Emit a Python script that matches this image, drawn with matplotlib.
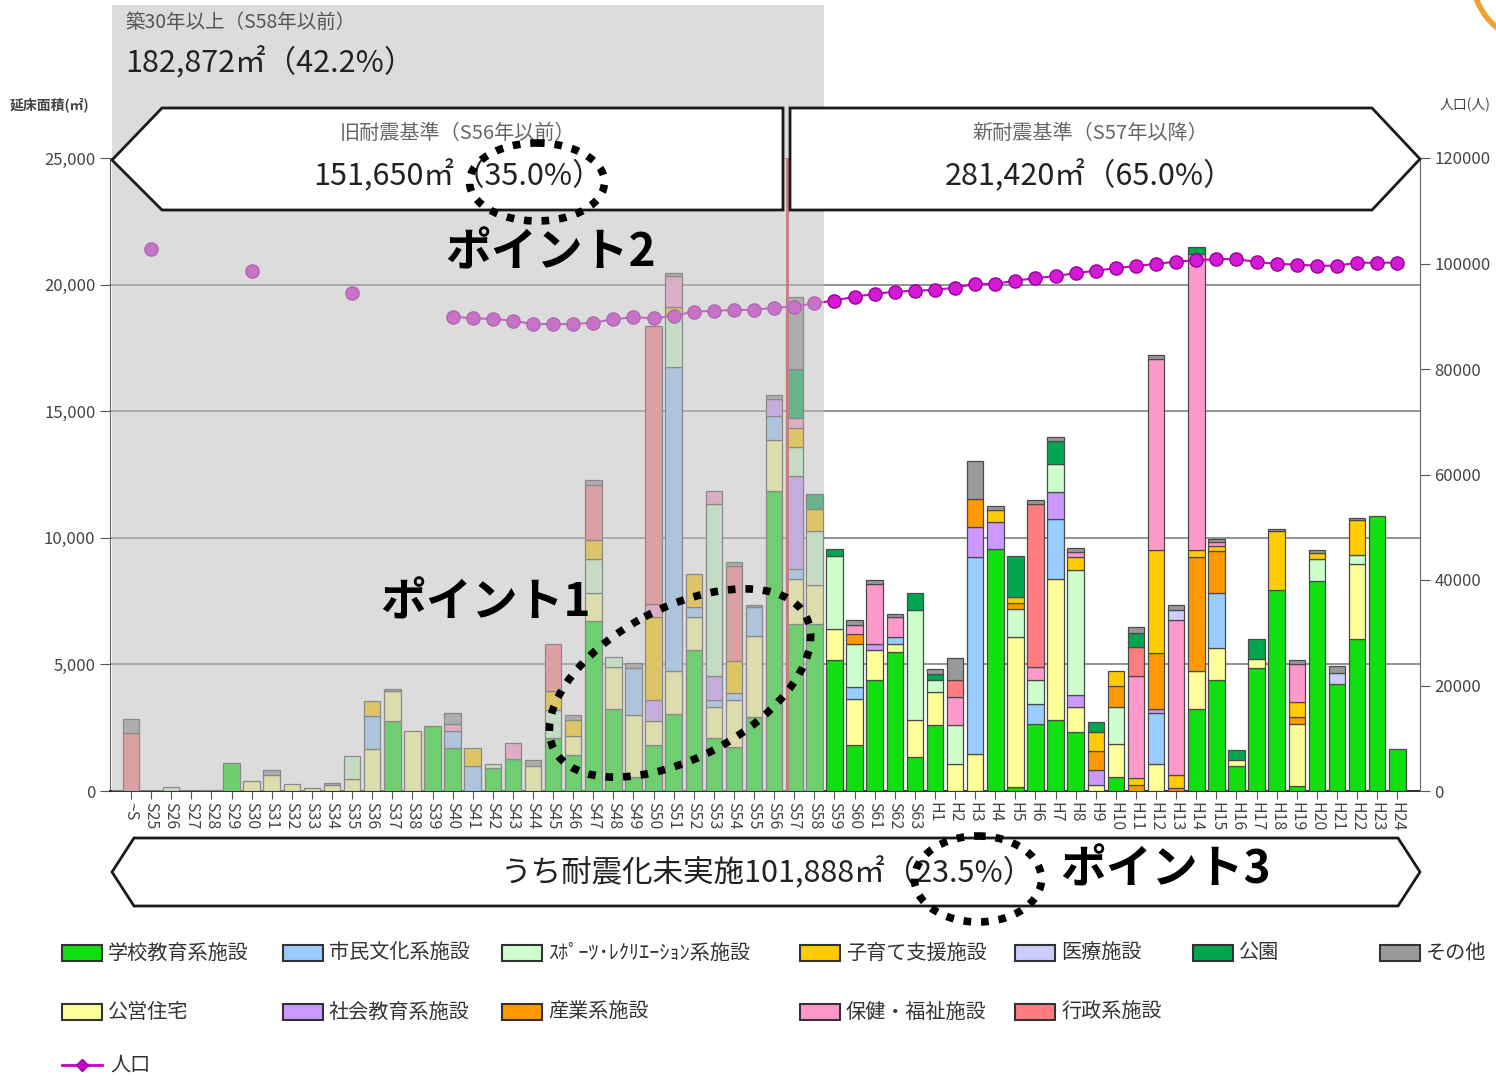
import matplotlib
matplotlib.use("Agg")
import matplotlib.pyplot as plt
import matplotlib.transforms as mtransforms
from matplotlib.patches import Polygon, Ellipse, Rectangle, Circle
from matplotlib.lines import Line2D
import numpy as np

plt.rcParams['font.family'] = ['Noto Sans CJK JP', 'DejaVu Sans']

# --- data -------------------------------------------------------------
years = ["~S"] + [f"S{n}" for n in range(25, 64)] + [f"H{n}" for n in range(1, 25)]

school = [0, 0, 0, 0, 0, 1120, 0, 0, 0, 0,
          0, 0, 0, 2760, 0, 2570, 1710, 0, 920, 1250,
          0, 2090, 1430, 6720, 3250, 550, 1820, 3040, 5565, 2090,
          1750, 2910, 11830, 6590, 6590, 5160, 1800, 4370, 5490, 1340,
          2590, 0, 0, 9570, 160, 2660, 2790, 2330, 0, 570,
          0, 0, 0, 3220, 4370, 1000, 4870, 7950, 215, 8310,
          4230, 6020, 10850, 1650]
housing = [0, 0, 0, 0, 0, 0, 390, 630, 260, 130,
           230, 460, 1650, 1180, 2370, 0, 0, 0, 0, 0,
           990, 0, 730, 1090, 1630, 2450, 950, 1700, 1290, 1225,
           1840, 3200, 2040, 1770, 1560, 1250, 1850, 1180, 330, 1450,
           1320, 1080, 1470, 0, 5920, 0, 5590, 990, 220, 1290,
           0, 1070, 0, 1510, 1290, 220, 360, 0, 2435, 0,
           0, 2940, 0, 0]
culture = [0, 0, 0, 0, 0, 0, 0, 0, 0, 0,
           0, 0, 1310, 0, 0, 0, 660, 990, 0, 0,
           0, 0, 0, 0, 0, 1840, 0, 12000, 410, 275,
           270, 1155, 950, 410, 0, 0, 460, 0, 260, 0,
           0, 0, 7770, 0, 0, 790, 2370, 0, 0, 0,
           0, 2010, 0, 0, 2150, 0, 0, 0, 0, 0,
           0, 0, 0, 0]
social_edu = [0, 0, 0, 0, 0, 0, 0, 0, 0, 0,
              0, 0, 0, 0, 0, 0, 0, 0, 0, 0,
              0, 0, 0, 0, 0, 0, 820, 0, 0, 950,
              0, 0, 650, 3670, 0, 0, 0, 270, 0, 0,
              0, 0, 1180, 1050, 0, 0, 1050, 470, 600, 0,
              0, 140, 0, 0, 0, 0, 0, 0, 0, 0,
              0, 0, 0, 0]
sports = [0, 0, 150, 0, 50, 0, 0, 0, 0, 0,
          0, 920, 0, 0, 0, 0, 0, 0, 130, 0,
          0, 1100, 0, 1360, 400, 0, 0, 2115, 0, 6810,
          0, 0, 0, 1160, 2110, 2890, 1710, 0, 0, 4340,
          460, 1510, 0, 0, 1120, 920, 1120, 4920, 0, 1440,
          0, 0, 0, 0, 0, 0, 0, 0, 0, 860,
          0, 350, 0, 0]
industry = [0, 0, 0, 0, 0, 0, 0, 0, 0, 0,
            0, 0, 0, 0, 0, 0, 0, 0, 0, 0,
            0, 0, 0, 0, 0, 0, 0, 0, 0, 0,
            0, 0, 0, 0, 0, 0, 390, 0, 0, 0,
            0, 0, 1120, 0, 230, 0, 0, 0, 750, 860,
            250, 2230, 100, 4510, 1650, 0, 0, 0, 290, 0,
            0, 0, 0, 0]
childcare = [0, 0, 0, 0, 0, 0, 0, 0, 0, 0,
             0, 0, 590, 0, 0, 0, 0, 720, 0, 0,
             0, 750, 660, 750, 0, 0, 3270, 275, 1290, 0,
             1294, 0, 0, 750, 890, 0, 0, 0, 0, 0,
             0, 0, 0, 460, 230, 0, 0, 530, 760, 570,
             250, 4080, 545, 290, 210, 0, 0, 2330, 570, 220,
             0, 1400, 0, 0]
welfare = [0, 0, 0, 0, 0, 0, 0, 0, 0, 0,
           0, 0, 0, 0, 0, 0, 260, 0, 0, 630,
           0, 0, 0, 0, 0, 0, 530, 1190, 0, 510,
           0, 0, 0, 400, 0, 0, 330, 2370, 790, 0,
           0, 1120, 0, 0, 0, 530, 0, 200, 0, 0,
           4040, 7520, 6090, 11680, 150, 0, 0, 0, 1500, 0,
           0, 0, 0, 0]
admin = [2300, 0, 0, 0, 0, 0, 0, 0, 0, 0,
         0, 0, 0, 0, 0, 0, 0, 0, 0, 0,
         0, 1850, 0, 2180, 0, 0, 10970, 0, 0, 0,
         3750, 0, 0, 0, 0, 0, 0, 0, 0, 0,
         0, 660, 0, 0, 0, 6450, 0, 0, 0, 0,
         1150, 0, 0, 0, 0, 0, 0, 0, 0, 0,
         0, 0, 0, 0]
medical = [0, 0, 0, 0, 0, 0, 0, 0, 0, 0,
           0, 0, 0, 0, 0, 0, 0, 0, 0, 0,
           0, 0, 0, 0, 0, 0, 0, 0, 0, 0,
           0, 0, 0, 0, 0, 0, 0, 0, 0, 0,
           0, 0, 0, 0, 0, 0, 0, 0, 0, 0,
           0, 0, 430, 0, 0, 0, 0, 0, 0, 0,
           430, 0, 0, 0]
park = [0, 0, 0, 0, 0, 0, 0, 0, 0, 0,
        0, 0, 0, 0, 0, 0, 0, 0, 0, 0,
        0, 0, 0, 0, 0, 0, 0, 0, 0, 0,
        0, 0, 0, 1900, 570, 260, 0, 0, 0, 690,
        260, 0, 0, 0, 1640, 0, 920, 0, 390, 0,
        540, 0, 0, 290, 0, 400, 790, 0, 0, 0,
        0, 0, 0, 0]
other = [530, 0, 0, 0, 0, 0, 0, 200, 0, 0,
         100, 0, 0, 70, 0, 0, 460, 0, 0, 0,
         230, 0, 200, 200, 0, 200, 0, 140, 0, 0,
         140, 70, 180, 2860, 0, 0, 220, 130, 130, 0,
         200, 890, 1510, 160, 0, 130, 140, 150, 0, 0,
         250, 150, 175, 0, 140, 0, 0, 80, 150, 140,
         280, 80, 0, 0]

# population (人), census years only before S40
population = [None, 102760, None, None, None, None, 98590, None, None, None,
              None, 94480, None, None, None, None, 89930, 89620, 89490, 89170,
              88490, 88540, 88490, 88790, 89430, 89810, 89620, 90060, 90880, 91010,
              91200, 91200, 91640, 91830, 92460, 92970, 93720, 94230, 94670, 94860,
              94990, 95430, 96130, 96130, 96760, 97210, 97640, 98150, 98650, 99100,
              99540, 99920, 100360, 100620, 100830, 100830, 100280, 99940, 99790, 99580,
              99580, 100150, 100150, 100150]

colors = {
    '学校教育系施設': '#10e010',
    '公営住宅': '#ffff99',
    '市民文化系施設': '#99ccff',
    '社会教育系施設': '#cc99ff',
    'ｽﾎﾟｰﾂ･ﾚｸﾘｴｰｼｮﾝ系施設': '#ccffcc',
    '産業系施設': '#ff9900',
    '子育て支援施設': '#ffcc00',
    '保健・福祉施設': '#ff99cc',
    '行政系施設': '#ff7c80',
    '医療施設': '#ccccff',
    '公園': '#00a550',
    'その他': '#999999',
}

# stacking order, bottom to top
series = [
    ('学校教育系施設', school),
    ('公営住宅', housing),
    ('市民文化系施設', culture),
    ('社会教育系施設', social_edu),
    ('ｽﾎﾟｰﾂ･ﾚｸﾘｴｰｼｮﾝ系施設', sports),
    ('産業系施設', industry),
    ('子育て支援施設', childcare),
    ('保健・福祉施設', welfare),
    ('行政系施設', admin),
    ('医療施設', medical),
    ('公園', park),
    ('その他', other),
]

# --- figure -----------------------------------------------------------
W, H = 1496, 1080
fig = plt.figure(figsize=(W / 100, H / 100), dpi=100)
fig.patch.set_facecolor('white')

# pixel coordinates (origin top-left) for the annotations
px = mtransforms.Affine2D().scale(0.01, -0.01).translate(0, H / 100) + fig.dpi_scale_trans

ax = fig.add_axes([110 / W, 1 - 791 / H, (1420 - 110) / W, (791 - 158) / H])
ax2 = ax.twinx()

x = np.arange(len(years))
bottom = np.zeros(len(years))
for name, vals in series:
    vals = np.array(vals, dtype=float)
    m = vals > 0
    ax.bar(x[m], vals[m], bottom=bottom[m], width=0.82, color=colors[name],
           edgecolor='#4a4a4a', linewidth=0.9, zorder=3)
    bottom += vals

ax.set_xlim(-1.045, 64.13)
ax.set_ylim(0, 25000)
ax.set_yticks(range(0, 25001, 5000))
ax.set_yticklabels([f"{v:,}" for v in range(0, 25001, 5000)])
ax.yaxis.grid(True, color='#808080', linewidth=1.2, zorder=0)
ax.set_axisbelow(True)
ax.set_xticks(x)
ax.set_xticklabels(years, rotation=-90, fontsize=11.5, color='#444444')
ax.tick_params(axis='x', length=6, color='#555555', pad=2)
ax.tick_params(axis='y', length=7, color='#555555', labelsize=12, labelcolor='#444444')
for s in ['top', 'right']:
    ax.spines[s].set_visible(False)
ax.spines['left'].set_color('#666666')
ax.spines['bottom'].set_color('#222222')
ax.spines['bottom'].set_linewidth(1.3)

# boundary between old / new seismic standard
ax.axvline(32.65, color='#d03030', linewidth=2, zorder=4)

pop = np.array([np.nan if v is None else v for v in population], dtype=float)
ax2.plot(x, pop, color='#cc00cc', linewidth=1.5, marker='o', markersize=9.5,
         markerfacecolor='#d41ad4', markeredgecolor='#9a009a', markeredgewidth=1, zorder=4)
ax2.set_ylim(0, 120000)
ax2.set_yticks(range(0, 120001, 20000))
ax2.set_yticklabels([str(v) for v in range(0, 120001, 20000)])
ax2.tick_params(axis='y', length=7, color='#555555', labelsize=12, labelcolor='#444444')
for s in ['top', 'left', 'bottom']:
    ax2.spines[s].set_visible(False)
ax2.spines['right'].set_color('#666666')

# grey overlay for buildings 30+ years old (S58 and earlier)
ax2.add_patch(Rectangle((-0.95, 0), 34.5 + 0.95, 786 / 633, transform=ax2.get_xaxis_transform(),
                        facecolor='#bfbfbf', alpha=0.545, edgecolor='none', zorder=6, clip_on=False))

# axis titles
fig.text(10, 105, '延床面積(㎡)', transform=px, fontsize=10, fontweight='bold',
         color='#444444', va='center', ha='left')
fig.text(1440, 105, '人口(人)', transform=px, fontsize=10, color='#444444', va='center', ha='left')

# --- annotations -------------------------------------------------------
def shape(points):
    fig.add_artist(Polygon(points, closed=True, transform=px, facecolor='white',
                           edgecolor='#1a1a1a', linewidth=2, zorder=10))


def ring(cx, cy, w, h, angle=0):
    fig.add_artist(Ellipse((cx, cy), w, h, angle=angle, transform=px, fill=False,
                           edgecolor='black', linewidth=5.5, linestyle=(0, (1, 1.3)),
                           zorder=12))


fig.text(125, 22, '築30年以上（S58年以前）', transform=px, fontsize=14, color='#555555',
         va='center', ha='left', zorder=11)
fig.text(125, 63, '182,872㎡（42.2%）', transform=px, fontsize=22, color='#222222',
         va='center', ha='left', zorder=11)

shape([(112, 160), (162, 108), (783, 108), (783, 210), (162, 210)])
shape([(790, 108), (1372, 108), (1420, 159), (1372, 210), (790, 210)])
shape([(112, 872), (134, 838), (1398, 838), (1420, 872), (1398, 906), (134, 906)])

fig.text(458, 133, '旧耐震基準（S56年以前）', transform=px, fontsize=14.5, color='#666666',
         va='center', ha='center', zorder=11)
fig.text(313, 176, '151,650㎡（35.0%）', transform=px, fontsize=22, color='#222222',
         va='center', ha='left', zorder=11)
fig.text(1090, 133, '新耐震基準（S57年以降）', transform=px, fontsize=14.5, color='#666666',
         va='center', ha='center', zorder=11)
fig.text(945, 176, '281,420㎡（65.0%）', transform=px, fontsize=22, color='#222222',
         va='center', ha='left', zorder=11)
fig.text(1034, 873, 'うち耐震化未実施101,888㎡（23.5%）', transform=px, fontsize=22,
         color='#222222', va='center', ha='right', zorder=11)

for tx, ty, label in [(445, 253, 'ポイント2'), (380, 603, 'ポイント1'), (1060, 870, 'ポイント3')]:
    fig.text(tx, ty, label, transform=px, fontsize=33, fontweight='bold', color='black',
             va='center', ha='left', zorder=11)

ring(537, 182, 135, 78)
ring(680, 683, 285, 150, angle=-28)
ring(978, 879, 127, 86)

fig.add_artist(Circle((1540, -25), 68, transform=px, fill=False, edgecolor='#f0a030',
                      linewidth=4, zorder=11))

# --- legend --------------------------------------------------------------
legend_rows = [
    (953, [(62, '学校教育系施設'), (283, '市民文化系施設'), (502, 'ｽﾎﾟｰﾂ･ﾚｸﾘｴｰｼｮﾝ系施設'),
           (800, '子育て支援施設'), (1015, '医療施設'), (1193, '公園'), (1380, 'その他')]),
    (1012, [(62, '公営住宅'), (283, '社会教育系施設'), (502, '産業系施設'),
            (800, '保健・福祉施設'), (1015, '行政系施設')]),
]
for ly, items in legend_rows:
    for lx, name in items:
        fig.add_artist(Rectangle((lx, ly - 8), 40, 16, transform=px, facecolor=colors[name],
                                 edgecolor='#333333', linewidth=1.5, zorder=11))
        fig.text(lx + 46, ly, name, transform=px, fontsize=14.5, color='#333333',
                 va='center', ha='left', zorder=11)

fig.add_artist(Line2D([62, 102], [1065, 1065], transform=px, color='#cc00cc', linewidth=2,
                      zorder=11))
fig.add_artist(Line2D([82], [1065], transform=px, color='#cc00cc', marker='D', markersize=6,
                      markerfacecolor='#cc00cc', markeredgecolor='#990099', zorder=12))
fig.text(110, 1065, '人口', transform=px, fontsize=14.5, color='#333333', va='center', ha='left',
         zorder=11)

fig.savefig('out.png', dpi=100)
